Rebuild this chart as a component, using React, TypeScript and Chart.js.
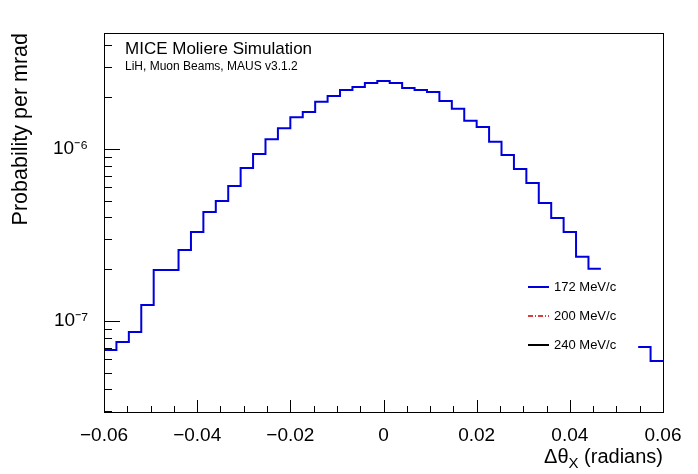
import React, { useEffect, useRef } from "react";
import { Chart, registerables } from "chart.js";
Chart.register(...registerables);

const binEdgesStart = -0.06;
const binEdgesEnd = 0.06;
const values172: (number | null)[] = [
  6.78e-8, 7.55e-8, 8.63e-8, 1.24e-7, 1.98e-7, 1.98e-7, 2.59e-7, 3.29e-7, 4.3e-7, 4.99e-7,
  6.1e-7, 7.76e-7, 9.35e-7, 1.14e-6, 1.32e-6, 1.53e-6, 1.64e-6, 1.88e-6, 2.03e-6, 2.2e-6,
  2.29e-6, 2.42e-6, 2.48e-6, 2.42e-6, 2.26e-6, 2.2e-6, 2.14e-6, 1.9e-6, 1.71e-6, 1.46e-6,
  1.34e-6, 1.1e-6, 9.23e-7, 7.65e-7, 6.34e-7, 4.85e-7, 3.97e-7, 3.29e-7, 2.36e-7, 2.01e-7,
  null, null, null, 7.06e-8, 5.85e-8,
];
const legendLabels = ["172 MeV/c", "200 MeV/c", "240 MeV/c"];
const xTicks = [-0.06, -0.04, -0.02, 0, 0.02, 0.04, 0.06];
const yLabelTicks = [1e-7, 1e-6];

const FONT = "'Liberation Sans', Arial, sans-serif";

function fmtX(v: number) {
  if (Math.abs(v) < 1e-9) return "0";
  const s = Math.abs(v).toFixed(2);
  return (v < 0 ? "\u2212" : "") + s;
}

export default function App() {
  const ref = useRef<HTMLCanvasElement>(null);
  useEffect(() => {
    document.body.style.margin = "0";
    const binWidth = (binEdgesEnd - binEdgesStart) / values172.length;
    const pts: { x: number; y: number | null }[] = [];
    values172.forEach((v, i) => {
      const xl = binEdgesStart + i * binWidth;
      pts.push({ x: xl, y: v });
      pts.push({ x: xl + binWidth, y: v });
      if (v === null) pts.push({ x: xl + binWidth, y: null });
    });
    const decor = {
      id: "decor",
      afterDraw(chart: any) {
        const { ctx, chartArea: a, scales } = chart;
        const xs = scales.x, ys = scales.y;
        ctx.save();
        ctx.strokeStyle = "#000";
        ctx.lineWidth = 1;
        ctx.strokeRect(a.left + 0.5, a.top + 0.5, a.right - a.left, a.bottom - a.top);
        ctx.beginPath();
        for (let k = 0; k <= 24; k++) {
          const v = -0.06 + k * 0.005;
          const px = Math.round(xs.getPixelForValue(v)) + 0.5;
          const len = k % 4 === 0 ? 12 : 6;
          ctx.moveTo(px, a.bottom);
          ctx.lineTo(px, a.bottom - len);
        }
        for (let e = -8; e <= -5; e++) {
          for (let m = 1; m <= 9; m++) {
            const v = m * Math.pow(10, e);
            if (v < ys.min || v > ys.max) continue;
            const py = Math.round(ys.getPixelForValue(v)) + 0.5;
            const len = m === 1 ? 16 : 8;
            ctx.moveTo(a.left, py);
            ctx.lineTo(a.left + len, py);
          }
        }
        ctx.stroke();
        ctx.fillStyle = "#000";
        ctx.font = `17px ${FONT}`;
        ctx.textBaseline = "alphabetic";
        ctx.textAlign = "left";
        ctx.fillText("MICE Moliere Simulation", 125, 54);
        ctx.font = `12px ${FONT}`;
        ctx.fillText("LiH, Muon Beams, MAUS v3.1.2", 125, 70);
        ctx.textAlign = "right";
        ctx.font = `20px ${FONT}`;
        const tail = " (radians)";
        const tw = ctx.measureText(tail).width;
        ctx.fillText(tail, 663, 463);
        ctx.font = `15px ${FONT}`;
        const xw = ctx.measureText("X").width;
        ctx.fillText("X", 663 - tw, 468);
        ctx.font = `20px ${FONT}`;
        ctx.fillText("\u0394\u03b8", 663 - tw - xw, 463);
        ctx.save();
        ctx.translate(27, 33);
        ctx.rotate(-Math.PI / 2);
        ctx.textAlign = "right";
        ctx.font = `21.5px ${FONT}`;
        ctx.fillText("Probability per mrad", 0, 0);
        ctx.restore();
        const ly = [287, 316, 345];
        const colors = ["#0000dd", "#cc0000", "#000000"];
        ctx.font = `13px ${FONT}`;
        ctx.textAlign = "left";
        ctx.textBaseline = "middle";
        ly.forEach((y, i) => {
          ctx.beginPath();
          ctx.strokeStyle = colors[i];
          ctx.lineWidth = i === 1 ? 1.5 : 2;
          ctx.setLineDash(i === 1 ? [5, 2, 1, 2] : []);
          ctx.moveTo(528, y);
          ctx.lineTo(549, y);
          ctx.stroke();
          ctx.setLineDash([]);
          ctx.fillStyle = "#000";
          ctx.fillText(legendLabels[i], 554, y);
        });
        ctx.restore();
      },
    };
    const chart = new Chart(ref.current!, {
      type: "line",
      data: {
        datasets: [
          {
            data: pts as any,
            borderColor: "#0000dd",
            borderWidth: 2,
            pointRadius: 0,
            spanGaps: false,
            fill: false,
          },
        ],
      },
      options: {
        animation: false,
        responsive: false,
        parsing: false as any,
        layout: { padding: { left: 0, top: 33, right: 35, bottom: 0 } },
        plugins: { legend: { display: false }, tooltip: { enabled: false } },
        scales: {
          x: {
            type: "linear",
            min: -0.06,
            max: 0.06,
            grid: { display: false },
            border: { display: false },
            afterBuildTicks: (s: any) => {
              s.ticks = xTicks.map((v) => ({ value: v }));
            },
            afterFit: (s: any) => {
              s.height = 62;
            },
            ticks: {
              color: "#000",
              font: { family: FONT, size: 19 },
              padding: 4,
              maxRotation: 0,
              autoSkip: false,
              callback: (v: any) => fmtX(Number(v)),
            },
          },
          y: {
            type: "logarithmic",
            min: 2.96e-8,
            max: 4.72e-6,
            grid: { display: false },
            border: { display: false },
            afterBuildTicks: (s: any) => {
              s.ticks = yLabelTicks.map((v) => ({ value: v }));
            },
            afterFit: (s: any) => {
              s.width = 104;
            },
            ticks: {
              color: "#000",
              font: { family: FONT, size: 19 },
              padding: 8,
              autoSkip: false,
              callback: (v: any) => (Number(v) > 5e-7 ? "10\u207b\u2076" : "10\u207b\u2077"),
            },
          },
        },
      },
      plugins: [decor],
    });
    return () => chart.destroy();
  }, []);
  return (
    <div style={{ width: 698, height: 474, background: "#fff" }}>
      <canvas ref={ref} width={698} height={474} />
    </div>
  );
}
